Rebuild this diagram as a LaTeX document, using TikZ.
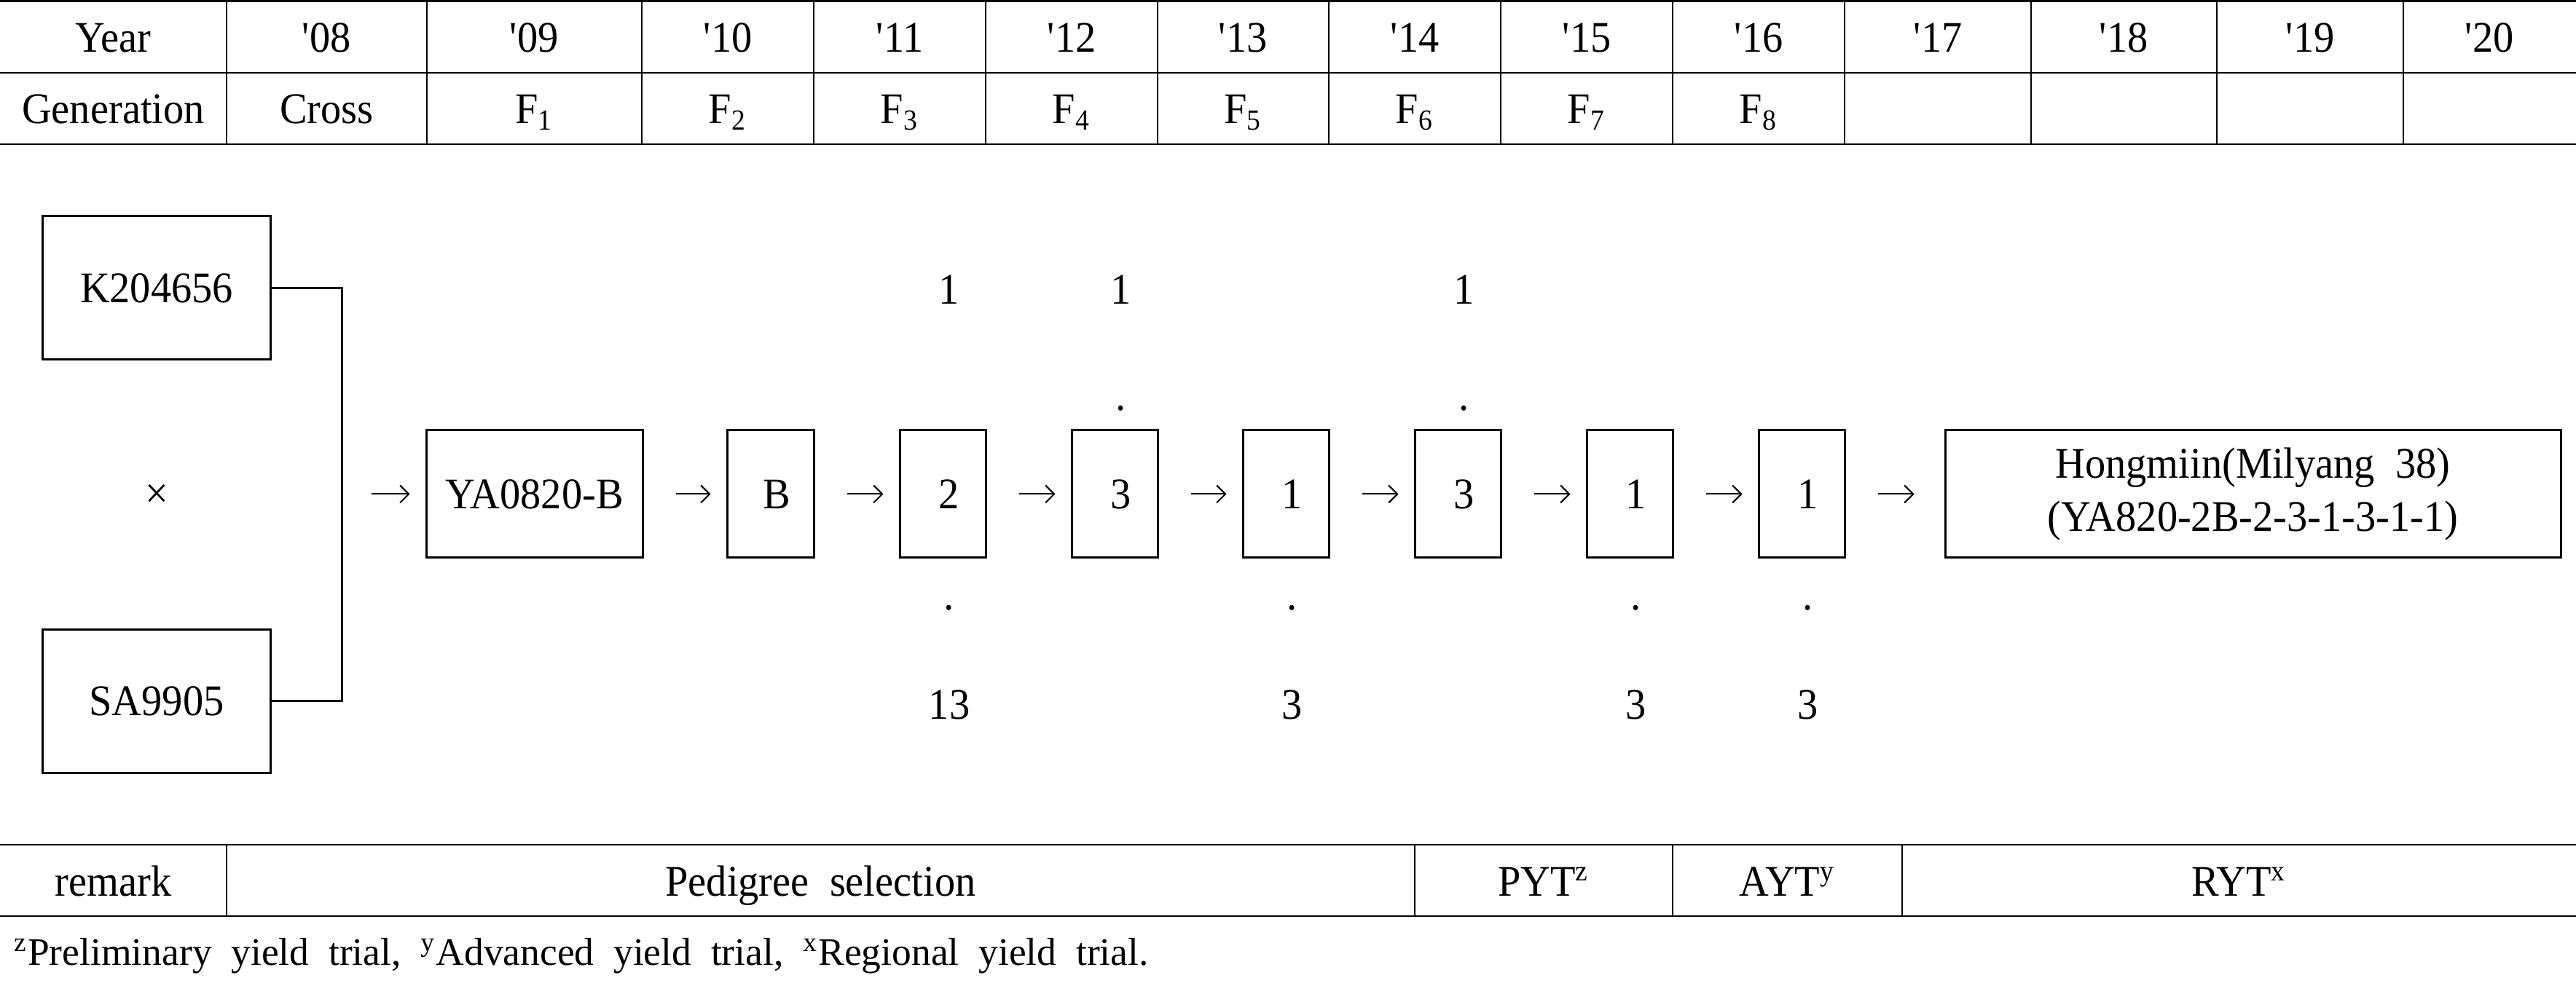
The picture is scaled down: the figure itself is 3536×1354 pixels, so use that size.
\documentclass[tikz,border=0pt]{standalone}
\usepackage{fontspec}
\setmainfont{Liberation Serif}[FakeStretch=0.94]
\newfontfamily\fnfont{Liberation Serif}
\usetikzlibrary{arrows.meta}
\begin{document}
\begin{tikzpicture}[x=0.2pt,y=-0.2pt,
  every node/.style={font=\fontsize{12pt}{13.6pt}\selectfont, inner sep=0pt},
  box/.style={draw, line width=0.6pt},
  parent/.style={box, minimum width=62.4pt, minimum height=39.4pt},
  numbox/.style={box, minimum width=23.6pt, minimum height=35pt},
  tcell/.style={anchor=base},
  arr/.style={line width=0.4pt, -{Straight Barb[length=2.4pt,width=4.8pt]}, shorten <=8.8pt, shorten >=4.2pt},
  link/.style={line width=0.6pt},
  toprule/.style={line width=0.6pt},
  midrule/.style={line width=0.4pt},
  colrule/.style={line width=0.35pt}]
\useasboundingbox (0,0) rectangle (3536,1354);

% ---------- top table ----------
\draw[toprule] (0,1.5) -- (3536,1.5);
\draw[midrule] (0,100) -- (3536,100);
\draw[midrule] (0,198) -- (3536,198);
\foreach \x in {311,586,881,1117,1353,1589,1824,2060,2296,2532,2788,3043,3299}
  \draw[colrule] (\x,1.5) -- (\x,198);

\foreach \cx/\t [count=\i] in {155.5/Year, 448.5/\textquotesingle08, 733.5/\textquotesingle09,
   999/\textquotesingle10, 1235/\textquotesingle11, 1471/\textquotesingle12, 1706.5/\textquotesingle13,
   1942/\textquotesingle14, 2178/\textquotesingle15, 2414/\textquotesingle16, 2660/\textquotesingle17,
   2915.5/\textquotesingle18, 3171/\textquotesingle19, 3417.5/\textquotesingle20}
  \node[tcell] (yr\i) at (\cx,72) {\t};

\foreach \cx/\t [count=\i] in {155.5/Generation, 448.5/Cross, 733.5/F\textsubscript{1},
   999/F\textsubscript{2}, 1235/F\textsubscript{3}, 1471/F\textsubscript{4}, 1706.5/F\textsubscript{5},
   1942/F\textsubscript{6}, 2178/F\textsubscript{7}, 2414/F\textsubscript{8}}
  \node[tcell] (gen\i) at (\cx,170) {\t};

% ---------- diagram ----------
\node[parent] (K) at (215,395.5) {K204656};
\node[parent] (SA) at (215,963) {SA9905};
\node (cross) at (215,681) {×};
\coordinate (join) at (469,678.5);
\draw[link] (K.east) -| (join) |- (SA.east);

\node[box, minimum width=59.4pt, minimum height=35pt] (YA) at (733.5,678.5) {YA0820-B};
\node[numbox, minimum width=23.8pt] (B) at (1057.5,678.5) {\hspace*{3.6pt}B};
\node[numbox] (n2) at (1294,678.5) {\hspace*{3.6pt}2};
\node[numbox] (n3) at (1530,678.5) {\hspace*{3.6pt}3};
\node[numbox] (n1) at (1765,678.5) {\hspace*{3.6pt}1};
\node[numbox] (n3b) at (2001,678.5) {\hspace*{3.6pt}3};
\node[numbox] (n1b) at (2237,678.5) {\hspace*{3.6pt}1};
\node[numbox] (n1c) at (2473,678.5) {\hspace*{3.6pt}1};
\node[box, minimum width=169pt, minimum height=35pt, align=center,
      font=\fontsize{12pt}{14.6pt}\selectfont] (final) at (3092.5,678.5)
  {Hongmiin(Milyang~~38)\\(YA820-2B-2-3-1-3-1-1)};

\draw[arr, shorten <=8.2pt] (join) -- (YA);
\draw[arr] (YA) -- (B);
\draw[arr] (B) -- (n2);
\draw[arr] (n2) -- (n3);
\draw[arr] (n3) -- (n1);
\draw[arr] (n1) -- (n3b);
\draw[arr] (n3b) -- (n1b);
\draw[arr] (n1b) -- (n1c);
\draw[arr, shorten >=8.2pt] (n1c) -- (final);

% labels above / below
\node (t2) at (1303,398) {1};
\node (t3) at (1539,398) {1};
\node[anchor=base] (d3) at (1539,564) {.};
\node (t3b) at (2010,398) {1};
\node[anchor=base] (d3b) at (2010,564) {.};
\node[anchor=base] (e2) at (1303,838) {.};
\node (b2) at (1303,968) {13};
\node[anchor=base] (e1) at (1774,838) {.};
\node (b1) at (1774,968) {3};
\node[anchor=base] (e1b) at (2246,838) {.};
\node (b1b) at (2246,968) {3};
\node[anchor=base] (e1c) at (2482,838) {.};
\node (b1c) at (2482,968) {3};

% ---------- bottom table ----------
\draw[midrule] (0,1160) -- (3536,1160);
\draw[midrule] (0,1258) -- (3536,1258);
\foreach \x in {311,1942,2296,2611}
  \draw[colrule] (\x,1160) -- (\x,1258);
\node[tcell] (remark) at (155.5,1231) {remark};
\node[tcell] (pedigree) at (1126.5,1231) {Pedigree~~selection};
\node[tcell] (pyt) at (2119,1231) {PYT\textsuperscript{z}};
\node[tcell] (ayt) at (2453.5,1231) {AYT\textsuperscript{y}};
\node[tcell] (ryt) at (3073.5,1231) {RYT\textsuperscript{x}};

\node[anchor=base west, font=\fnfont\fontsize{10.7pt}{12pt}\selectfont] (note) at (18,1326)
  {\textsuperscript{z}Preliminary~~yield~~trial,~~\textsuperscript{y}Advanced~~yield~~trial,~~\textsuperscript{x}Regional~~yield~~trial.};
\end{tikzpicture}
\end{document}
